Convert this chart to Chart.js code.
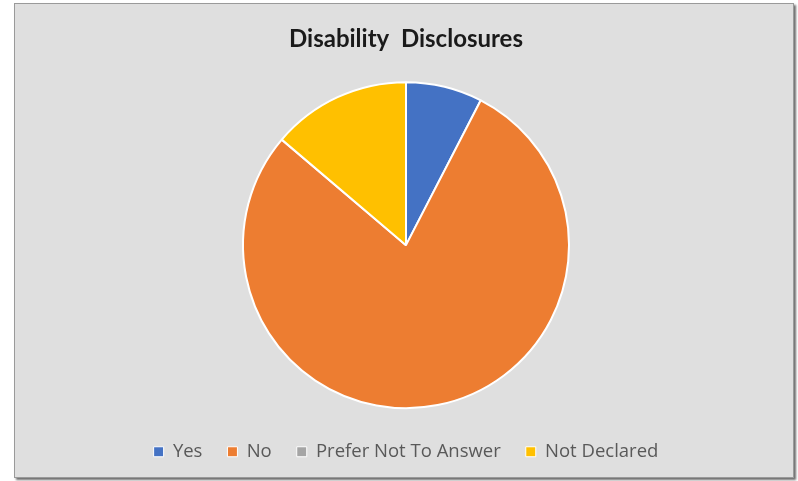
<!DOCTYPE html>
<html>
<head>
<meta charset="utf-8">
<script src="https://cdn.jsdelivr.net/npm/chart.js@4/dist/chart.umd.min.js"></script>
<style>
  html, body { margin: 0; padding: 0; background: #ffffff; }
  #frame {
    position: absolute; left: 14px; top: 3px; width: 778px; height: 473px;
    background: #dfdfdf; border: 1px solid #9a9a9a;
    box-shadow: 2px 2px 2px #6f6f6f;
  }
  #chart { display: block; }
</style>
</head>
<body>
<div id="frame"><canvas id="chart" width="778" height="473"></canvas></div>
<script>
const categories = ["Yes", "No", "Prefer Not To Answer", "Not Declared"];
const disclosures = [11, 114, 0, 20];
const sliceColors = ["#4472C4", "#ED7D31", "#A5A5A5", "#FFC000"];
const chartTitle = "Disability  Disclosures";

new Chart(document.getElementById("chart"), {
  type: "pie",
  data: {
    labels: categories,
    datasets: [{
      data: disclosures,
      backgroundColor: sliceColors,
      borderColor: "#ffffff",
      borderWidth: 2,
      radius: 163
    }]
  },
  options: {
    responsive: false,
    animation: false,
    layout: { padding: { top: 21, bottom: 6, left: 4, right: 0 } },
    plugins: {
      tooltip: { enabled: false },
      title: {
        display: true,
        text: chartTitle,
        color: "#1a1a1a",
        font: { family: "Lato", size: 24, weight: "bold" },
        padding: { top: 0, bottom: 19 }
      },
      legend: {
        position: "bottom",
        labels: {
          color: "#595959",
          font: { family: "Open Sans", size: 18.5 },
          boxWidth: 10,
          boxHeight: 10,
          padding: 25,
          generateLabels(chart) {
            return categories.map((c, i) => ({
              text: c,
              fillStyle: sliceColors[i],
              strokeStyle: "#ffffff",
              lineWidth: 1,
              fontColor: "#595959",
              hidden: false,
              index: i
            }));
          }
        }
      }
    }
  }
});
</script>
</body>
</html>
